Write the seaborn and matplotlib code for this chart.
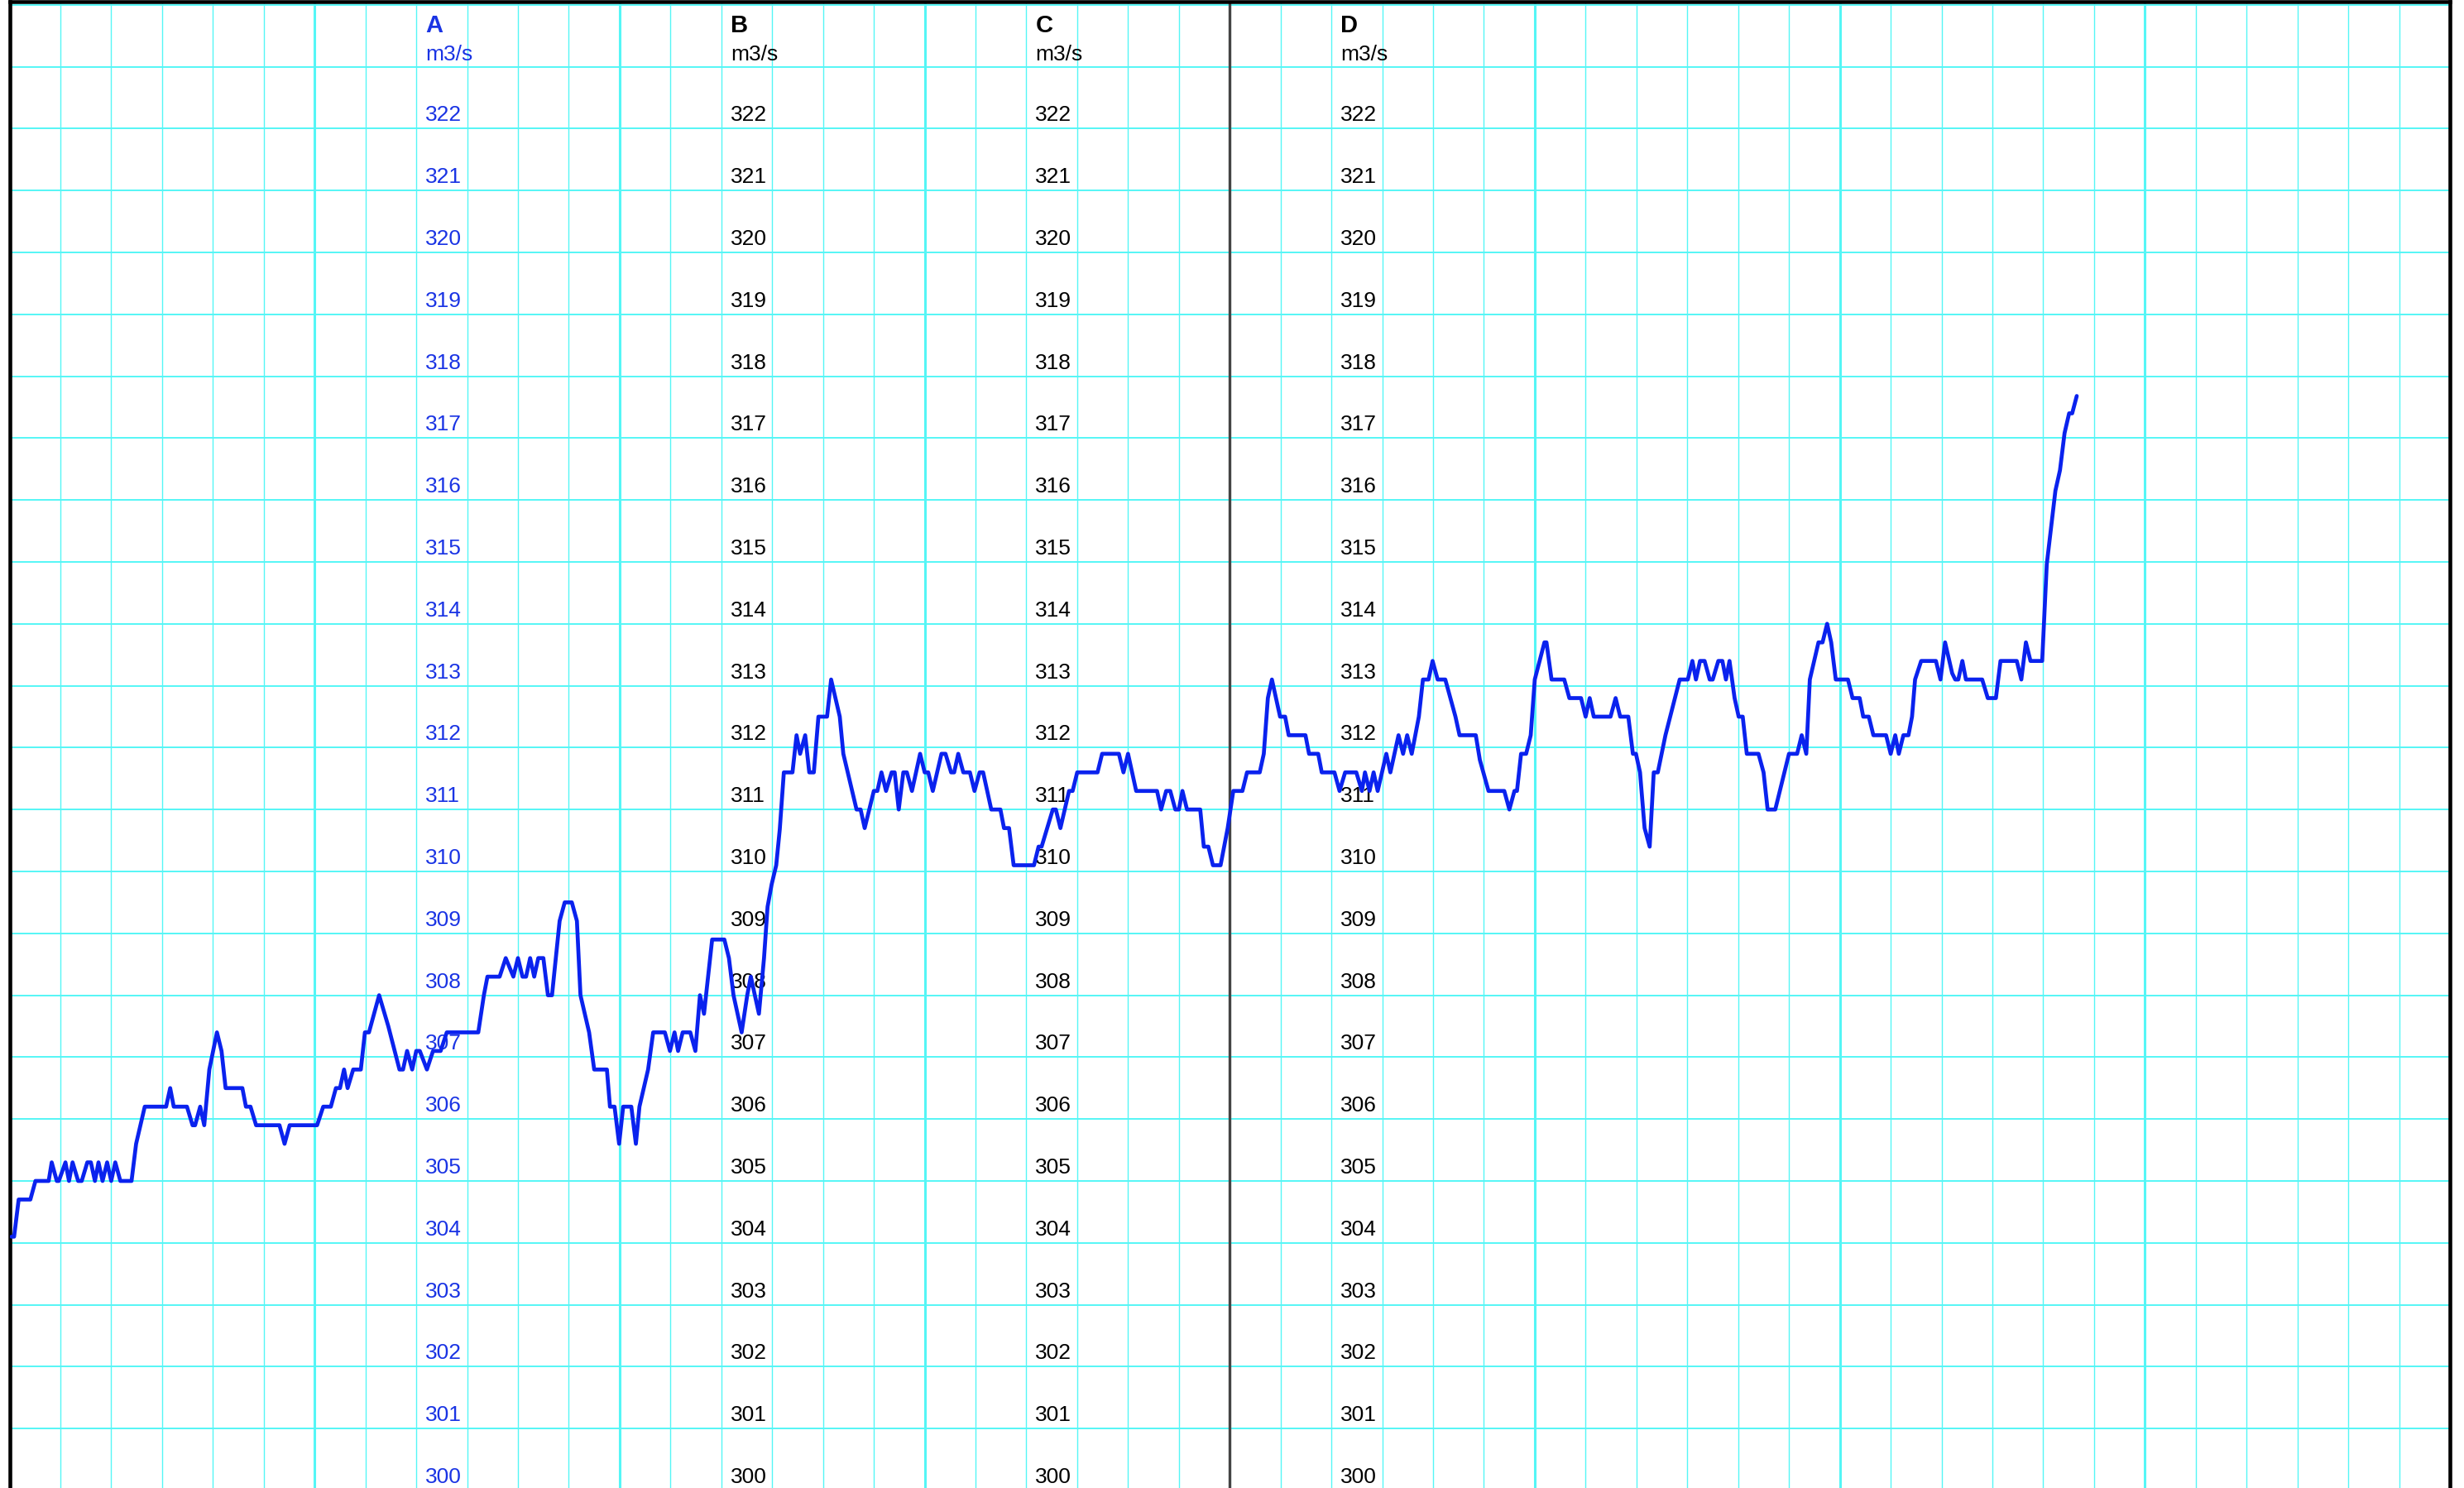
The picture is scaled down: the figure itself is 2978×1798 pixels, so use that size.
import numpy as np
import pandas as pd
import matplotlib
matplotlib.use('Agg')
import matplotlib.pyplot as plt
import seaborn as sns
from matplotlib.ticker import MultipleLocator

# ----- data (time in minor grid divisions, flow in m3/s) -----
t = [0.04, 0.09, 0.18, 0.41, 0.51, 0.77, 0.83, 0.93, 0.97, 1.10, 1.17, 1.24, 1.35, 1.42,
     1.53, 1.60, 1.68, 1.75, 1.83, 1.92, 2.00, 2.08, 2.18, 2.40, 2.49, 2.66, 3.08, 3.16,
     3.23, 3.49, 3.60, 3.65, 3.75, 3.83, 3.93, 4.08, 4.17, 4.25, 4.58, 4.65, 4.74, 4.85,
     5.31, 5.41, 5.51, 6.05, 6.17, 6.32, 6.42, 6.50, 6.58, 6.65, 6.76, 6.91, 6.99, 7.07,
     7.27, 7.45, 7.67, 7.74, 7.82, 7.92, 8.00, 8.07, 8.21, 8.33, 8.48, 8.60, 9.22, 9.33,
     9.40, 9.64, 9.76, 9.91, 10.00, 10.09, 10.16, 10.24, 10.32, 10.40, 10.50, 10.59, 10.67,
     10.82, 10.92, 11.06, 11.16, 11.23, 11.40, 11.50, 11.75, 11.81, 11.90, 11.99, 12.07,
     12.23, 12.32, 12.39, 12.56, 12.66, 12.89, 12.99, 13.08, 13.15, 13.24, 13.39, 13.49,
     13.58, 13.66, 13.82, 14.06, 14.15, 14.24, 14.40, 14.51, 14.58, 14.74, 14.84, 14.91,
     14.99, 15.08, 15.15, 15.23, 15.40, 15.48, 15.55, 15.65, 15.73, 15.82, 15.91, 16.08,
     16.16, 16.33, 16.40, 16.66, 16.74, 16.82, 17.00, 17.07, 17.15, 17.24, 17.35, 17.41,
     17.49, 17.58, 17.65, 17.75, 17.91, 18.00, 18.07, 18.16, 18.33, 18.41, 18.52, 18.58,
     18.66, 18.76, 18.89, 18.98, 19.08, 19.15, 19.31, 19.49, 19.56, 19.66, 19.75, 20.15,
     20.24, 20.30, 20.52, 20.58, 20.67, 20.84, 20.91, 21.00, 21.40, 21.49, 21.82, 21.91,
     22.00, 22.16, 22.57, 22.65, 22.75, 22.83, 22.93, 23.00, 23.07, 23.16, 23.42, 23.49,
     23.58, 23.67, 23.82, 23.96, 24.07, 24.25, 24.34, 24.59, 24.67, 24.75, 24.83, 24.99,
     25.09, 25.16, 25.49, 25.56, 25.74, 25.81, 26.06, 26.16, 26.27, 26.49, 26.60, 26.66,
     26.75, 26.83, 26.91, 27.08, 27.16, 27.32, 27.41, 27.49, 27.58, 27.72, 27.80, 27.91,
     27.99, 28.09, 28.24, 28.44, 28.52, 28.84, 28.92, 29.09, 29.40, 29.50, 29.60, 29.65,
     29.73, 29.83, 29.92, 30.00, 30.19, 30.23, 30.33, 30.58, 30.68, 30.91, 31.00, 31.08,
     31.16, 31.49, 31.59, 31.68, 31.84, 31.93, 31.99, 32.07, 32.16, 32.26, 32.34, 32.42,
     32.57, 32.85, 33.01, 33.10, 33.17, 33.25, 33.34, 33.44, 33.50, 33.61, 33.69, 33.76,
     33.83, 33.93, 34.01, 34.09, 34.17, 34.40, 34.50, 34.58, 34.73, 35.00, 35.16, 35.25,
     35.34, 35.41, 35.58, 35.66, 35.75, 35.83, 35.92, 36.16, 36.25, 36.39, 36.46, 36.57,
     36.66, 36.91, 37.00, 37.09, 37.16, 37.25, 37.35, 37.42, 37.48, 37.60, 37.89, 37.98,
     38.07, 38.21, 38.27, 38.33, 38.41, 38.48, 38.80, 38.91, 39.07, 39.16, 39.48, 39.57,
     39.66, 39.75, 39.98, 40.07, 40.24, 40.33, 40.42, 40.51, 40.57, 40.66]

flow = [304.1, 304.1, 304.7, 304.7, 305.0, 305.0, 305.3, 305.0, 305.0, 305.3, 305.0, 305.3, 305.0, 305.0,
        305.3, 305.3, 305.0, 305.3, 305.0, 305.3, 305.0, 305.3, 305.0, 305.0, 305.6, 306.2, 306.2, 306.5,
        306.2, 306.2, 305.9, 305.9, 306.2, 305.9, 306.8, 307.4, 307.1, 306.5, 306.5, 306.2, 306.2, 305.9,
        305.9, 305.6, 305.9, 305.9, 306.2, 306.2, 306.5, 306.5, 306.8, 306.5, 306.8, 306.8, 307.4, 307.4,
        308.0, 307.5, 306.8, 306.8, 307.1, 306.8, 307.1, 307.1, 306.8, 307.1, 307.1, 307.4, 307.4, 308.0,
        308.3, 308.3, 308.6, 308.3, 308.6, 308.3, 308.3, 308.6, 308.3, 308.6, 308.6, 308.0, 308.0,
        309.2, 309.5, 309.5, 309.2, 308.0, 307.4, 306.8, 306.8, 306.2, 306.2, 305.6, 306.2,
        306.2, 305.6, 306.2, 306.8, 307.4, 307.4, 307.1, 307.4, 307.1, 307.4, 307.4, 307.1,
        308.0, 307.7, 308.9, 308.9, 308.6, 308.0, 307.4, 308.0, 308.3, 307.7, 308.6, 309.43,
        309.79, 310.1, 310.68, 311.6, 311.6, 312.2, 311.9, 312.2, 311.6, 311.6, 312.5, 312.5,
        313.1, 312.5, 311.9, 311.0, 311.0, 310.7, 311.3, 311.3, 311.6, 311.3, 311.6, 311.6,
        311.0, 311.6, 311.6, 311.3, 311.9, 311.6, 311.6, 311.3, 311.9, 311.9, 311.6, 311.6,
        311.9, 311.6, 311.6, 311.3, 311.6, 311.6, 311.0, 311.0, 310.7, 310.7, 310.1, 310.1,
        310.4, 310.4, 311.0, 311.0, 310.7, 311.3, 311.3, 311.6, 311.6, 311.9, 311.9, 311.6,
        311.9, 311.3, 311.3, 311.0, 311.3, 311.3, 311.0, 311.0, 311.3, 311.0, 311.0, 310.4,
        310.4, 310.1, 310.1, 310.7, 311.3, 311.3, 311.6, 311.6, 311.9, 312.8, 313.1, 312.5,
        312.5, 312.2, 312.2, 311.9, 311.9, 311.6, 311.6, 311.3, 311.6, 311.6, 311.3, 311.6,
        311.3, 311.6, 311.3, 311.9, 311.6, 312.2, 311.9, 312.2, 311.9, 312.5, 313.1, 313.1,
        313.4, 313.1, 313.1, 312.5, 312.2, 312.2, 311.8, 311.3, 311.3, 311.0, 311.3, 311.3,
        311.9, 311.9, 312.2, 313.1, 313.7, 313.7, 313.1, 313.1, 312.8, 312.8, 312.5, 312.8,
        312.5, 312.5, 312.8, 312.5, 312.5, 311.9, 311.9, 311.6, 310.7, 310.4, 311.6, 311.6,
        312.2, 313.1, 313.1, 313.4, 313.1, 313.4, 313.4, 313.1, 313.1, 313.4, 313.4, 313.1,
        313.4, 312.8, 312.5, 312.5, 311.9, 311.9, 311.6, 311.0, 311.0, 311.9, 311.9, 312.2,
        311.9, 313.1, 313.7, 313.7, 314.0, 313.7, 313.1, 313.1, 312.8, 312.8, 312.5, 312.5,
        312.2, 312.2, 311.9, 312.2, 311.9, 312.2, 312.2, 312.5, 313.1, 313.4, 313.4, 313.1,
        313.7, 313.2, 313.1, 313.1, 313.4, 313.1, 313.1, 312.8, 312.8, 313.4, 313.4, 313.1,
        313.7, 313.4, 313.4, 314.96, 316.15, 316.48, 317.08, 317.4, 317.4, 317.68]

channels = ['A', 'B', 'C', 'D']
channel_pos = [8, 14, 20, 26]
channel_unit = 'm3/s'
scale_values = list(range(300, 323))

LINE_BLUE = '#0a22ee'
TEXT_BLUE = '#1a34e4'
GRID_CYAN = '#55f6f6'

sns.set_style('white')
plt.rcParams['font.family'] = ['Liberation Sans', 'DejaVu Sans']

W, H = 2978, 1799
fig = plt.figure(figsize=(W / 100, H / 100), dpi=100)
fig.patch.set_facecolor('white')
ax = fig.add_axes([11.5 / W, 0, (2961 - 11.5) / W, 1 - 3 / H])

df = pd.DataFrame({'t': t, 'flow': flow})
sns.lineplot(data=df, x='t', y='flow', ax=ax, color=LINE_BLUE, linewidth=3.4,
             estimator=None, sort=False, zorder=5)

ax.set_xlim(0, 48)
ax.set_ylim(300.04, 324.05)

# recorder paper grid
ax.xaxis.set_major_locator(MultipleLocator(6))
ax.xaxis.set_minor_locator(MultipleLocator(1))
ax.yaxis.set_major_locator(MultipleLocator(1))
ax.grid(which='major', axis='x', color=GRID_CYAN, linewidth=2.2)
ax.grid(which='minor', axis='x', color=GRID_CYAN, linewidth=1.0)
ax.grid(which='major', axis='y', color=GRID_CYAN, linewidth=1.4)
ax.set_axisbelow(True)
ax.tick_params(which='both', length=0, labelbottom=False, labelleft=False)
ax.set_xlabel('')
ax.set_ylabel('')

# cursor line in the middle of the strip
ax.axvline(24, color='#444444', linewidth=2.4, zorder=2.5)

for side in ['left', 'top', 'right']:
    ax.spines[side].set_color('black')
    ax.spines[side].set_linewidth(3.3)
ax.spines['bottom'].set_visible(False)

# channel scales
for name, pos in zip(channels, channel_pos):
    col = TEXT_BLUE if name == 'A' else 'black'
    ax.annotate(name, xy=(pos, 323), xytext=(11, 43), textcoords='offset pixels',
                ha='left', va='baseline', fontsize=21, fontweight='bold', color=col, zorder=3)
    ax.annotate(channel_unit, xy=(pos, 323), xytext=(11, 9), textcoords='offset pixels',
                ha='left', va='baseline', fontsize=19, color=col, zorder=3)
    for v in scale_values:
        ax.annotate(str(v), xy=(pos, v), xytext=(11, 10), textcoords='offset pixels',
                    ha='left', va='baseline', fontsize=19, color=col, zorder=3,
                    annotation_clip=False)

fig.savefig('out.png', dpi=100)
